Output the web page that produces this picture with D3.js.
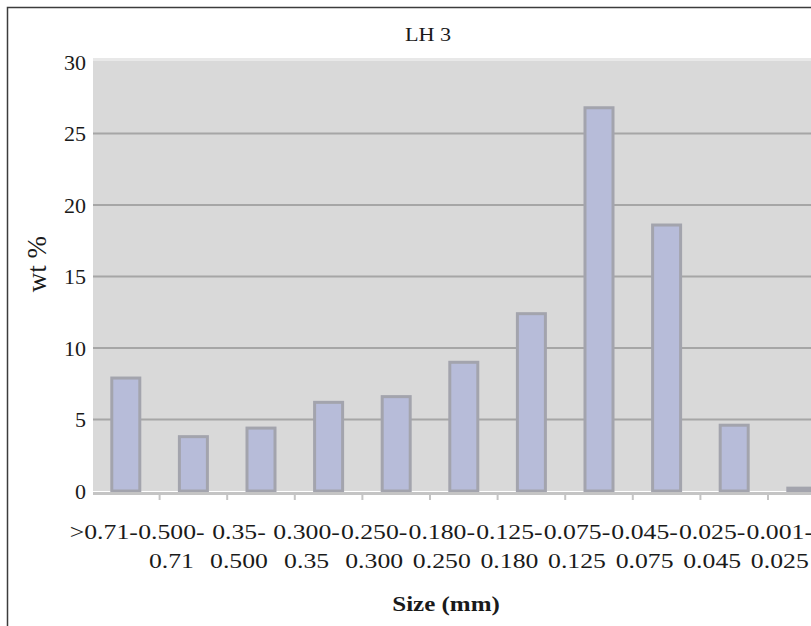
<!DOCTYPE html>
<html>
<head>
<meta charset="utf-8">
<script src="https://cdn.jsdelivr.net/npm/d3@7"></script>
<style>
  html, body { margin: 0; padding: 0; background: #ffffff; }
  svg { display: block; }
</style>
</head>
<body>
<svg id="chart" width="811" height="626"></svg>
<script>
// ---- data ----
const categories = [">0.71-", "0.500-0.71", "0.35-0.500", "0.300-0.35", "0.250-0.300",
  "0.180-0.250", "0.125-0.180", "0.075-0.125", "0.045-0.075", "0.025-0.045", "0.001-0.025"];
const wtPercent = [7.9, 3.8, 4.4, 6.2, 6.6, 9.0, 12.4, 26.8, 18.6, 4.6, 0.2];
const yTicks = [0, 5, 10, 15, 20, 25, 30];
const chartTitle = "LH 3";
const xTitle = "Size (mm)";
const yTitle = "wt %";

// ---- layout ----
const FONT = '"Liberation Serif"';
const plot = { left: 93, right: 836, top: 58, bottom: 491 };
const svg = d3.select("#chart");

// outer chart border (extends beyond the visible frame on right/bottom)
svg.append("rect")
  .attr("x", 7.5).attr("y", 7.5)
  .attr("width", 900).attr("height", 700)
  .attr("fill", "#ffffff")
  .attr("stroke", "#3c3c3c").attr("stroke-width", 1.5);

const x = d3.scaleBand().domain(categories).range([92, 92 + 67.6 * categories.length]);
const y = d3.scaleLinear().domain([0, 30]).range([plot.bottom, 62]);

// plot background
svg.append("rect")
  .attr("x", plot.left).attr("y", plot.top)
  .attr("width", plot.right - plot.left).attr("height", plot.bottom - plot.top)
  .attr("fill", "#d9d9d9");
svg.append("line")
  .attr("x1", plot.left).attr("x2", plot.right)
  .attr("y1", plot.top + 1.5).attr("y2", plot.top + 1.5)
  .attr("stroke", "#e8e8e8").attr("stroke-width", 3);

// gridlines
svg.append("g").selectAll("line")
  .data(yTicks.filter(d => d > 0 && d < 30))
  .join("line")
  .attr("x1", plot.left).attr("x2", plot.right)
  .attr("y1", d => y(d)).attr("y2", d => y(d))
  .attr("stroke", "#a6a6a6").attr("stroke-width", 2);

// bars
const barW = 28;
svg.append("g").selectAll("rect")
  .data(categories.map((c, i) => ({ c, v: wtPercent[i] })))
  .join("rect")
  .attr("x", d => x(d.c) + x.bandwidth() / 2 - barW / 2)
  .attr("y", d => y(d.v))
  .attr("width", barW)
  .attr("height", d => y(0) - y(d.v))
  .attr("fill", "#b7bcd9")
  .attr("stroke", "#a3a4ad")
  .attr("stroke-width", 3);

// x axis line + ticks at band boundaries
svg.append("line")
  .attr("x1", plot.left).attr("x2", plot.right)
  .attr("y1", plot.bottom + 2.5).attr("y2", plot.bottom + 2.5)
  .attr("stroke", "#c4c4c4").attr("stroke-width", 3);
svg.append("g").selectAll("line")
  .data(categories.slice(0, -1))
  .join("line")
  .attr("x1", d => x(d) + x.step()).attr("x2", d => x(d) + x.step())
  .attr("y1", plot.bottom + 2).attr("y2", plot.bottom + 9)
  .attr("stroke", "#c4c4c4").attr("stroke-width", 2);

// x tick labels via axis
const xAxis = d3.axisBottom(x).tickSize(0).tickFormat("");
const gx = svg.append("g").attr("transform", `translate(0,${plot.bottom})`).call(xAxis);
gx.attr("font-family", null).attr("font-size", null);
gx.select(".domain").remove();
gx.selectAll(".tick").each(function (d) {
  const idx = d.indexOf("-");
  const l1 = d.slice(0, idx + 1);
  const l2 = d.slice(idx + 1);
  const t = d3.select(this).select("text")
    .attr("transform", "translate(-22,0) scale(1.17,1)")
    .attr("text-anchor", "middle")
    .attr("y", null).attr("dy", null)
    .style("font-family", FONT)
    .style("font-size", "22px")
    .style("fill", "#1a1a1a");
  t.text(null);
  t.append("tspan").attr("x", 0).attr("y", 48).text(l1);
  t.append("tspan").attr("x", 0).attr("y", 77).text(l2);
});

// y tick labels via axis
const yAxis = d3.axisLeft(y).tickValues(yTicks).tickSize(0).tickPadding(7);
const gy = svg.append("g").attr("transform", `translate(${plot.left},0)`).call(yAxis);
gy.attr("font-family", null).attr("font-size", null);
gy.select(".domain").remove();
gy.selectAll("text")
  .style("font-family", FONT)
  .style("font-size", "22px")
  .style("fill", "#1a1a1a");

// titles
svg.append("text")
  .attr("transform", "translate(428,41) scale(1.2,1)")
  .attr("text-anchor", "middle")
  .style("font-family", FONT)
  .style("font-size", "18.5px")
  .style("fill", "#1a1a1a")
  .text(chartTitle);

svg.append("text")
  .attr("transform", "translate(446,611) scale(1.25,1)")
  .attr("text-anchor", "middle")
  .style("font-family", FONT)
  .style("font-size", "20px")
  .style("font-weight", "bold")
  .style("fill", "#1a1a1a")
  .text(xTitle);

svg.append("text")
  .attr("transform", "translate(46,264) rotate(-90)")
  .attr("text-anchor", "middle")
  .style("font-family", FONT)
  .style("font-size", "27px")
  .style("fill", "#1a1a1a")
  .text(yTitle);
</script>
</body>
</html>
